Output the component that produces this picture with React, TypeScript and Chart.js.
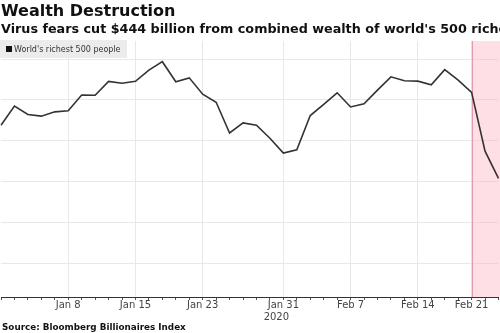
import React, { useEffect, useRef } from "react";
import { Chart, registerables } from "chart.js";

Chart.register(...registerables);

const TITLE = "Wealth Destruction";
const SUBTITLE = "Virus fears cut $444 billion from combined wealth of world's 500 richest people";
const SOURCE = "Source: Bloomberg Billionaires Index";
const SERIES_LABEL = "World's richest 500 people";
const YEAR_LABEL = "2020";
const YEAR_UNDER = "Jan 31";

// trading days, Dec 31 2019 – Feb 25 2020
const DATES = [
  "Dec 31", "Jan 2", "Jan 3", "Jan 6", "Jan 7", "Jan 8", "Jan 9", "Jan 10",
  "Jan 13", "Jan 14", "Jan 15", "Jan 16", "Jan 17", "Jan 21", "Jan 22", "Jan 23",
  "Jan 24", "Jan 27", "Jan 28", "Jan 29", "Jan 30", "Jan 31", "Feb 3", "Feb 4",
  "Feb 5", "Feb 6", "Feb 7", "Feb 10", "Feb 11", "Feb 12", "Feb 13", "Feb 14",
  "Feb 18", "Feb 19", "Feb 20", "Feb 21", "Feb 24", "Feb 25",
];

// combined net worth, $ billions (estimated)
const WEALTH = [
  5677, 5770, 5729, 5721, 5742, 5747, 5824, 5823,
  5891, 5882, 5891, 5946, 5987, 5889, 5908, 5828,
  5789, 5639, 5688, 5677, 5613, 5541, 5557, 5724,
  5779, 5835, 5766, 5781, 5848, 5913, 5894, 5892,
  5874, 5948, 5897, 5837, 5550, 5417,
];

const TICK_LABELS = ["Jan 8", "Jan 15", "Jan 23", "Jan 31", "Feb 7", "Feb 14", "Feb 21"];
const HIGHLIGHT_FROM = "Feb 21";

const Y_MIN = 4838;
const Y_MAX = 6088;
const Y_STEP = 200;

const FONT = "'DejaVu Sans', Verdana, sans-serif";

export default function App() {
  const ref = useRef<HTMLCanvasElement | null>(null);

  useEffect(() => {
    if (!ref.current) return;

    const highlight = {
      id: "highlight",
      beforeDatasetsDraw(chart: any) {
        const { ctx, chartArea, scales } = chart;
        const x0 = scales.x.getPixelForValue(DATES.indexOf(HIGHLIGHT_FROM));
        ctx.save();
        ctx.fillStyle = "rgba(249, 170, 186, 0.38)";
        ctx.fillRect(x0, chartArea.top, chart.width - x0, chartArea.bottom - chartArea.top);
        ctx.strokeStyle = "#e59aaa";
        ctx.lineWidth = 1;
        ctx.beginPath();
        ctx.moveTo(Math.round(x0) + 0.5, chartArea.top);
        ctx.lineTo(Math.round(x0) + 0.5, chartArea.bottom);
        ctx.stroke();
        ctx.restore();
      },
      afterDraw(chart: any) {
        const { ctx, chartArea, scales } = chart;
        const x = scales.x.getPixelForValue(DATES.indexOf(YEAR_UNDER)) - 7;
        ctx.save();
        ctx.font = `10px ${FONT}`;
        ctx.fillStyle = "#444";
        ctx.textAlign = "center";
        ctx.textBaseline = "alphabetic";
        ctx.fillText(YEAR_LABEL, x, chartArea.bottom + 23);
        ctx.restore();
      },
    };

    const chart = new Chart(ref.current, {
      type: "line",
      data: {
        labels: DATES,
        datasets: [
          {
            label: SERIES_LABEL,
            data: WEALTH,
            borderColor: "#333333",
            borderWidth: 1.6,
            pointRadius: 0,
            tension: 0,
            fill: false,
          },
        ],
      },
      options: {
        responsive: false,
        animation: false,
        layout: { padding: { top: 41, left: 1, right: 1.5, bottom: 23 } },
        plugins: {
          legend: { display: false },
          tooltip: { enabled: false },
        },
        scales: {
          x: {
            offset: false,
            border: { color: "#333", width: 1 },
            grid: {
              color: (c: any) =>
                TICK_LABELS.includes(DATES[c.index]) ? "#e8e8e8" : "rgba(0,0,0,0)",
              tickColor: "#555",
              tickLength: 3,
              lineWidth: 1,
            },
            ticks: {
              autoSkip: false,
              maxRotation: 0,
              padding: -1,
              color: "#444",
              font: { family: FONT, size: 10 },
              callback: (_v: any, i: number) =>
                TICK_LABELS.includes(DATES[i]) ? DATES[i] : "",
            },
          },
          y: {
            min: Y_MIN,
            max: Y_MAX,
            border: { display: false },
            grid: { color: "#e8e8e8", drawTicks: false },
            ticks: { display: false, stepSize: Y_STEP, includeBounds: false },
          },
        },
      },
      plugins: [highlight],
    });

    return () => chart.destroy();
  }, []);

  return (
    <div
      style={{
        position: "fixed",
        left: 0,
        top: 0,
        width: 500,
        height: 333,
        background: "#fff",
        overflow: "hidden",
        fontFamily: FONT,
      }}
    >
      <canvas ref={ref} width={500} height={333} style={{ position: "absolute", left: 0, top: 0 }} />
      <div
        style={{
          position: "absolute",
          left: 1,
          top: 0,
          fontSize: 16,
          fontWeight: "bold",
          color: "#111",
          whiteSpace: "nowrap",
          lineHeight: "22px",
        }}
      >
        {TITLE}
      </div>
      <div
        style={{
          position: "absolute",
          left: 1,
          top: 21,
          fontSize: 12.75,
          fontWeight: "bold",
          color: "#111",
          whiteSpace: "nowrap",
          lineHeight: "16px",
        }}
      >
        {SUBTITLE}
      </div>
      <div
        style={{
          position: "absolute",
          left: 0,
          top: 40,
          width: 127,
          height: 18,
          background: "#ececec",
          display: "flex",
          alignItems: "center",
          fontSize: 8,
          color: "#333",
          whiteSpace: "nowrap",
        }}
      >
        <span
          style={{ display: "inline-block", width: 6, height: 6, background: "#111", marginLeft: 6, marginRight: 2 }}
        />
        {SERIES_LABEL}
      </div>
      <div
        style={{
          position: "absolute",
          left: 2,
          top: 321,
          fontSize: 8.8,
          fontWeight: "bold",
          color: "#111",
          whiteSpace: "nowrap",
          lineHeight: "12px",
        }}
      >
        {SOURCE}
      </div>
    </div>
  );
}
